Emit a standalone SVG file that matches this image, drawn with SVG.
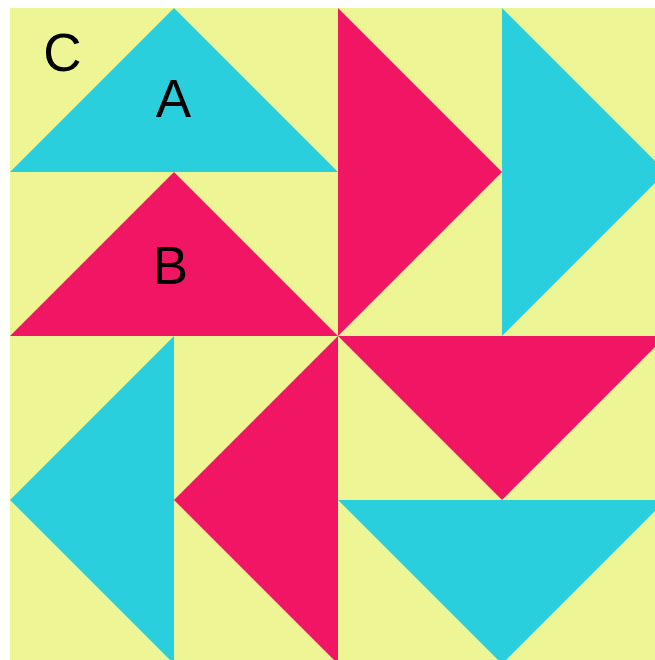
<svg xmlns="http://www.w3.org/2000/svg" width="655" height="660" viewBox="0 0 655 660">
<style>
.bg{fill:#eef595}
.cy{fill:#2acfdd}
.pk{fill:#f01664}
.lbl{font-family:"Liberation Sans",Arial,sans-serif;font-size:53px;fill:#000;text-anchor:middle}
</style>
<rect x="0" y="0" width="655" height="660" fill="#ffffff"/>
<rect class="bg" x="10" y="8" width="656" height="656"/>
<g id="tA"><polygon class="cy" points="174,8 10,172 338,172"/></g>
<g id="tB"><polygon class="pk" points="174,172 10,336 338,336"/></g>
<g id="t3"><polygon class="pk" points="338,8 502,172 338,336"/></g>
<g id="t4"><polygon class="cy" points="502,8 666,172 502,336"/></g>
<g id="t5"><polygon class="cy" points="174,336 10,500 174,664"/></g>
<g id="t6"><polygon class="pk" points="338,336 174,500 338,664"/></g>
<g id="t7"><polygon class="pk" points="338,336 666,336 502,500"/></g>
<g id="t8"><polygon class="cy" points="338,500 666,500 502,664"/></g>
<g id="labels">
<text class="lbl" x="62.5" y="71">C</text>
<text class="lbl" x="173.5" y="117">A</text>
<text class="lbl" x="170.5" y="284">B</text>
</g>
</svg>
